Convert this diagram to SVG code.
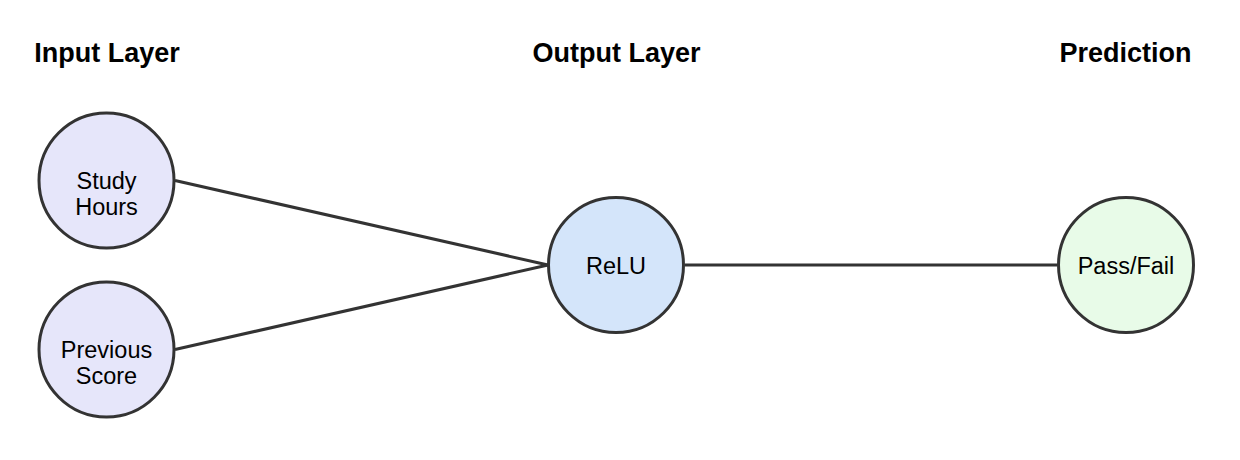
<svg xmlns="http://www.w3.org/2000/svg" width="1240" height="460" viewBox="0 0 1240 460">
<style>
.title{font-family:"Liberation Sans",Arial,sans-serif;font-size:27px;font-weight:bold;fill:#000;text-anchor:middle}
.lbl{font-family:"Liberation Sans",Arial,sans-serif;font-size:23.5px;fill:#000;text-anchor:middle}
.node{stroke:#333;stroke-width:3}
.edge{stroke:#333;stroke-width:3;fill:none}
.in{fill:#E6E6FA}
.mid{fill:#D4E5FA}
.out{fill:#E8FBE8}
</style>
<rect width="1240" height="460" fill="#fff"/>
<g id="titles">
<text class="title" x="107" y="62">Input Layer</text>
<text class="title" x="616.5" y="62">Output Layer</text>
<text class="title" x="1125.5" y="62">Prediction</text>
</g>
<g id="connectors">
<line class="edge" x1="175" y1="180.5" x2="548" y2="265"/>
<line class="edge" x1="175" y1="349.5" x2="548" y2="265"/>
<line class="edge" x1="685" y1="265" x2="1057" y2="265"/>
</g>
<g id="study_hours">
<circle class="node in" cx="106.5" cy="180.5" r="67.5"/>
<text class="lbl" x="106.5" y="189">Study</text>
<text class="lbl" x="106.5" y="214.5">Hours</text>
</g>
<g id="previous_score">
<circle class="node in" cx="106.5" cy="349.5" r="67.5"/>
<text class="lbl" x="106.5" y="358">Previous</text>
<text class="lbl" x="106.5" y="383.5">Score</text>
</g>
<g id="relu">
<circle class="node mid" cx="616" cy="265" r="67.5"/>
<text class="lbl" x="616" y="273.5">ReLU</text>
</g>
<g id="pass_fail">
<circle class="node out" cx="1126" cy="265" r="67.5"/>
<text class="lbl" x="1126" y="273.5">Pass/Fail</text>
</g>
</svg>
